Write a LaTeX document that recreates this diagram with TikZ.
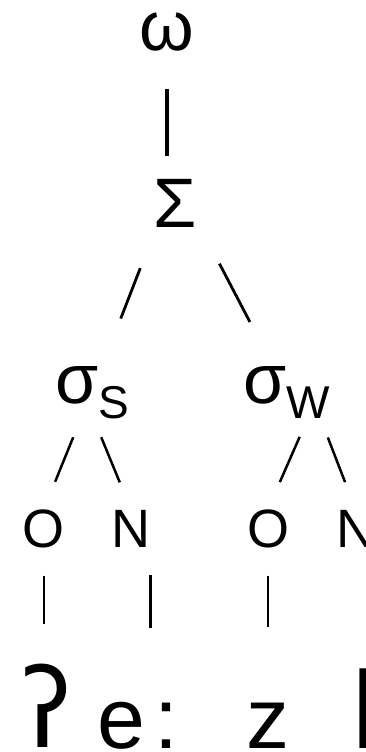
\documentclass[tikz,border=0pt]{standalone}
\usepackage{fontspec}
\setmainfont{Liberation Sans}
\newfontfamily\ipafont{DejaVu Sans}
\newcommand{\lowsub}[1]{\raisebox{-15pt}{\fontsize{46}{55}\selectfont #1}}

\begin{document}
\begin{tikzpicture}[x=1pt, y=-1pt,
    greek/.style={font=\fontsize{70}{84}\selectfont, inner sep=0pt},
    unit/.style={font=\fontsize{54}{64}\selectfont, inner sep=0pt},
    seg/.style={font=\fontsize{86}{100}\selectfont, inner sep=0pt},
    tallseg/.style={font=\fontsize{110}{120}\selectfont, inner sep=0pt},
    bar/.style={line width=2.8pt},
    branch/.style={line width=2.5pt, shorten <=37pt, shorten >=29.5pt}]
    \useasboundingbox (0,0) rectangle (365,752);
    \clip (0,0) rectangle (365,752);

    % word, foot, syllables
    \node[greek, anchor=base] (omega) at (167,51) {ω};
    \node[greek, anchor=base] (Sigma) at (175,227) {Σ};
    \node[greek, anchor=base west] (sigS) at (55,403) {σ\lowsub{S}};
    \node[greek, anchor=base west] (sigW) at (243,403) {σ\lowsub{W}};

    % onsets and nuclei
    \node[unit, anchor=base] (o1) at (44,547) {O};
    \node[unit, anchor=base] (n1) at (131,547) {N};
    \node[unit, anchor=base] (o2) at (268,547) {O};
    \node[unit, anchor=base west] (n2) at (336,547) {N};

    % segments
    \node[tallseg, anchor=base, xscale=0.9] (glot) at (47,747) {\ipafont ʔ};
    \node[seg, anchor=base west] (ee) at (97,748) {e\hspace{10pt}:};
    \node[seg, anchor=base] (zz) at (268,748) {z};
    \node[tallseg, anchor=base west] (ll) at (352,748) {l};

    \draw[bar, line width=3.2pt, shorten <=37pt, shorten >=23pt] (omega.south) -- (omega.south |- Sigma.north);
    \draw[bar, shorten <=96pt, shorten >=79pt] (Sigma.north) -- (sigS.center);
    \draw[bar, shorten <=96pt, shorten >=79pt] (Sigma.north) -- (sigW.center);

    \draw[branch] ([xshift=-5pt]sigS.base) -- (o1.north);
    \draw[branch] ([xshift=-5pt]sigS.base) -- (n1.north);
    \draw[branch] ([xshift=28pt]sigW.base) -- (o2.north);
    \draw[branch] ([xshift=28pt]sigW.base) -- (n2.north);

    \draw[bar, shorten <=28pt, shorten >=39pt] (o1.south) -- (o1.south |- glot.north);
    \draw[bar, shorten <=28pt, shorten >=74pt] (n1.south east) -- (n1.south east |- ee.north);
    \draw[bar, shorten <=28pt, shorten >=75pt] (o2.south) -- (o2.south |- zz.north);
\end{tikzpicture}
\end{document}
